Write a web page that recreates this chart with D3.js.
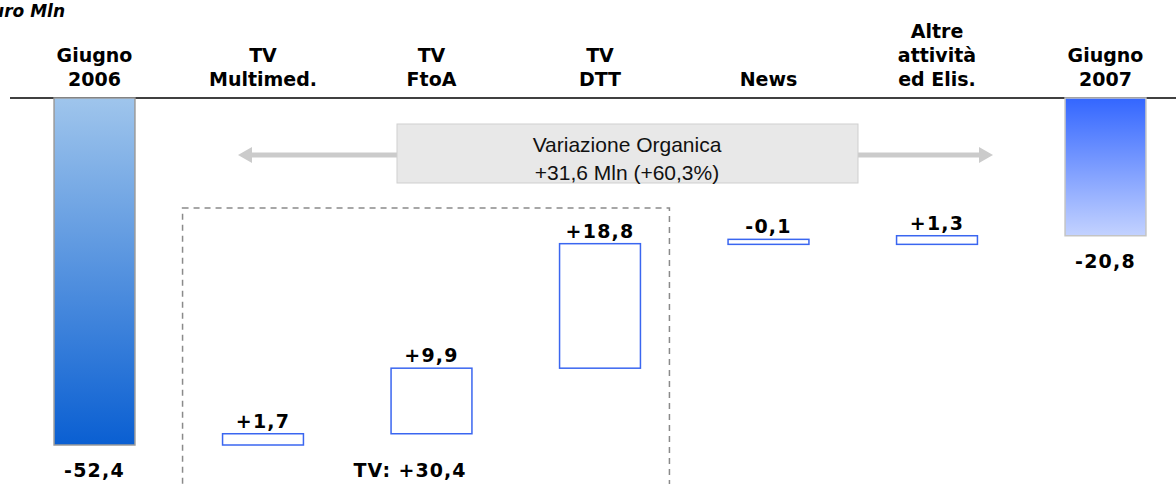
<!DOCTYPE html>
<html>
<head>
<meta charset="utf-8">
<script src="https://cdn.jsdelivr.net/npm/d3@7"></script>
<style>
  html, body { margin: 0; padding: 0; background: #fff; }
  svg { display: block; }
</style>
</head>
<body>
<svg id="chart" width="1176" height="484"></svg>
<script>
// ---- data ----
const categories = ["Giugno 2006", "TV Multimed.", "TV FtoA", "TV DTT", "News", "Altre attività ed Elis.", "Giugno 2007"];
const categoryLines = [["Giugno", "2006"], ["TV", "Multimed."], ["TV", "FtoA"], ["TV", "DTT"], ["News"], ["Altre", "attività", "ed Elis."], ["Giugno", "2007"]];
const values = [-52.4, 1.7, 9.9, 18.8, -0.1, 1.3, -20.8];
const barTypes = ["total", "delta", "delta", "delta", "delta", "delta", "total"];
const valueLabels = ["-52,4", "+1,7", "+9,9", "+18,8", "-0,1", "+1,3", "-20,8"];
const unitLabel = "Euro Mln";
const boxLines = ["Variazione Organica", "+31,6 Mln (+60,3%)"];
const groupLabel = "TV: +30,4";
const groupCategories = ["TV Multimed.", "TV FtoA", "TV DTT"];

// ---- layout ----
const svg = d3.select("#chart");
const baseY = 98;
const x = d3.scaleBand().domain(categories).range([10.25, 1189.75]).paddingInner(0.52).paddingOuter(0.26);
const y = d3.scaleLinear().domain([0, -52.4]).range([baseY, 445]);

// cumulative
let cum = 0;
const bars = categories.map((c, i) => {
  let from, to;
  if (barTypes[i] === "total") { from = 0; to = values[i]; cum = values[i]; }
  else { from = cum; to = cum + values[i]; cum = to; }
  return { cat: c, i, from, to, type: barTypes[i], label: valueLabels[i] };
});

// gradients
const defs = svg.append("defs");
const g1 = defs.append("linearGradient").attr("id", "gStart").attr("x1", 0).attr("y1", 0).attr("x2", 0).attr("y2", 1);
g1.append("stop").attr("offset", "0%").attr("stop-color", "#9fc5ec");
g1.append("stop").attr("offset", "100%").attr("stop-color", "#0a5fd2");
const g2 = defs.append("linearGradient").attr("id", "gEnd").attr("x1", 0).attr("y1", 0).attr("x2", 0).attr("y2", 1);
g2.append("stop").attr("offset", "0%").attr("stop-color", "#3366ff");
g2.append("stop").attr("offset", "100%").attr("stop-color", "#c3d2ff");

// unit label (partially cut off on the left)
svg.append("text").attr("x", 65).attr("y", 17).attr("text-anchor", "end")
  .attr("font-family", "DejaVu Sans, Verdana, sans-serif").attr("font-size", 17)
  .attr("font-weight", "bold").attr("font-style", "italic").attr("fill", "#000").text(unitLabel);

// dashed group box
const gx0 = x(groupCategories[0]) - 40, gx1 = x(groupCategories[groupCategories.length - 1]) + x.bandwidth() + 29;
svg.append("rect").attr("x", gx0).attr("y", 208).attr("width", gx1 - gx0).attr("height", 300)
  .attr("fill", "none").attr("stroke", "#8a8a8a").attr("stroke-width", 1.5).attr("stroke-dasharray", "6,5");

// arrow
const ay = 155;
const ax0 = 238, ax1 = 993;
svg.append("line").attr("x1", ax0 + 12).attr("x2", ax1 - 12).attr("y1", ay).attr("y2", ay)
  .attr("stroke", "#cbcbcb").attr("stroke-width", 5);
svg.append("path").attr("d", `M${ax0},${ay} L${ax0 + 14},${ay - 8} L${ax0 + 14},${ay + 8} Z`).attr("fill", "#cbcbcb");
svg.append("path").attr("d", `M${ax1},${ay} L${ax1 - 14},${ay - 8} L${ax1 - 14},${ay + 8} Z`).attr("fill", "#cbcbcb");

// box
svg.append("rect").attr("x", 397).attr("y", 124).attr("width", 461).attr("height", 59)
  .attr("fill", "#e8e8e8").attr("stroke", "#cfcfcf").attr("stroke-width", 1);
svg.selectAll("text.box").data(boxLines).join("text").attr("class", "box")
  .attr("x", 627).attr("y", (d, i) => 152 + i * 28).attr("text-anchor", "middle")
  .attr("font-family", "Liberation Sans, Arial, sans-serif").attr("font-size", 21)
  .attr("fill", "#111").text(d => d);

// baseline
svg.append("line").attr("x1", 10).attr("x2", 1176).attr("y1", baseY).attr("y2", baseY)
  .attr("stroke", "#000").attr("stroke-width", 1.5);

// bars
const minH = 5;
svg.selectAll("rect.bar").data(bars).join("rect").attr("class", "bar")
  .attr("x", d => x(d.cat))
  .attr("width", x.bandwidth())
  .attr("y", d => {
    const top = Math.min(y(d.from), y(d.to)), h = Math.abs(y(d.from) - y(d.to));
    return d.type === "delta" && h < minH ? Math.max(y(d.from), y(d.to)) - minH : top;
  })
  .attr("height", d => Math.max(Math.abs(y(d.from) - y(d.to)), d.type === "delta" ? minH : 0))
  .attr("fill", d => d.type === "total" ? (d.i === 0 ? "url(#gStart)" : "url(#gEnd)") : "#fff")
  .attr("stroke", d => d.type === "total" ? (d.i === 0 ? "#9a9a9a" : "#c4c4c4") : "#3a66f0")
  .attr("stroke-width", 1.5);

// value labels
svg.selectAll("text.val").data(bars).join("text").attr("class", "val")
  .attr("x", d => x(d.cat) + x.bandwidth() / 2)
  .attr("y", d => {
    if (d.type === "total") return y(d.to) + 32;
    const h = Math.abs(y(d.from) - y(d.to));
    const top = h < minH ? Math.max(y(d.from), y(d.to)) - minH : Math.min(y(d.from), y(d.to));
    return top - 6;
  })
  .attr("text-anchor", "middle")
  .attr("font-family", "DejaVu Sans, Verdana, sans-serif").attr("font-size", 19)
  .attr("font-weight", "bold").attr("letter-spacing", 1.2).attr("fill", "#000")
  .text(d => d.label);

// category labels
const catG = svg.selectAll("g.cat").data(categories).join("g").attr("class", "cat");
catG.each(function (c, i) {
  const lines = categoryLines[i];
  const n = lines.length;
  d3.select(this).selectAll("text").data(lines).join("text")
    .attr("x", x(c) + x.bandwidth() / 2)
    .attr("y", (d, j) => 86 - (n - 1 - j) * 24)
    .attr("text-anchor", "middle")
    .attr("font-family", "DejaVu Sans, Verdana, sans-serif").attr("font-size", 19)
    .attr("font-weight", "bold").attr("fill", "#000").text(d => d);
});

// group total label
svg.append("text").attr("x", 410).attr("y", 477).attr("text-anchor", "middle")
  .attr("font-family", "DejaVu Sans, Verdana, sans-serif").attr("font-size", 19)
  .attr("font-weight", "bold").attr("letter-spacing", 1).attr("fill", "#000").text(groupLabel);
</script>
</body>
</html>
